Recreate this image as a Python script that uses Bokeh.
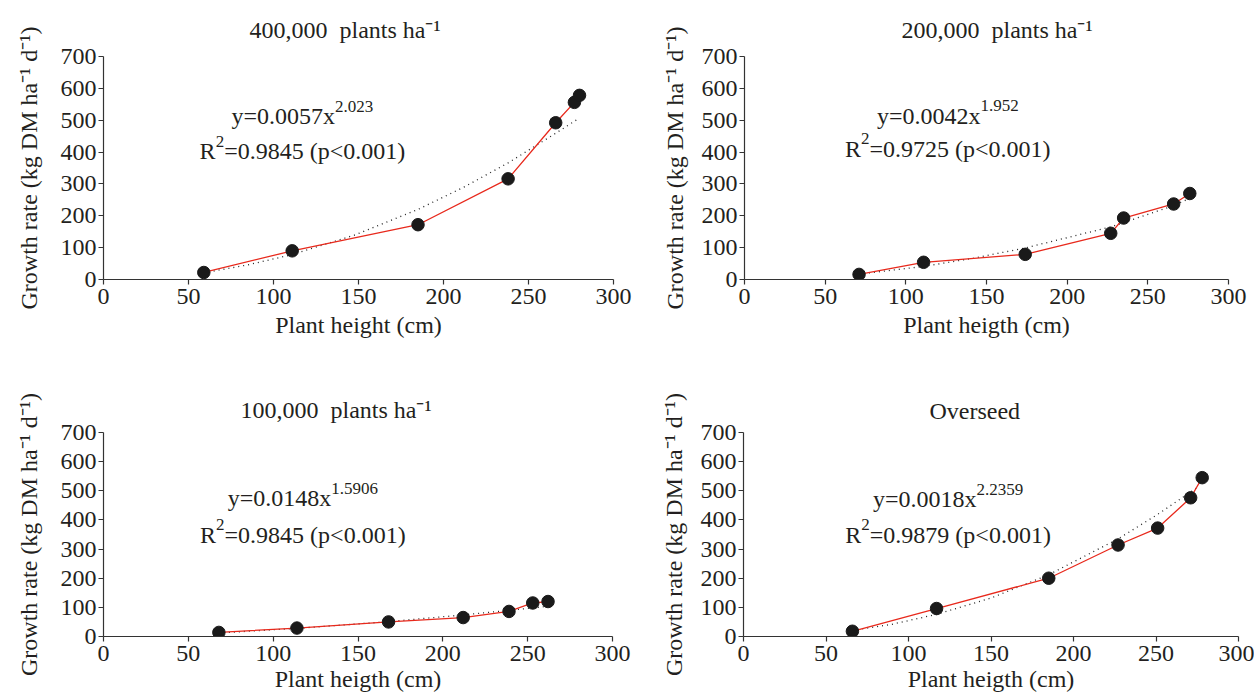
from bokeh.plotting import figure
from bokeh.models import Label, Range1d
from bokeh.layouts import column, row
from bokeh.embed import file_html
from bokeh.resources import INLINE

# ---------------- data ----------------
x_ticks = [0, 50, 100, 150, 200, 250, 300]
y_ticks = [0, 100, 200, 300, 400, 500, 600, 700]

p400_height = [59, 111, 185, 238, 266, 277, 280]
p400_rate = [22, 90, 172, 316, 492, 556, 578]
p400_fit_height = [59, 85, 111, 148, 185, 212, 238, 266, 280]
p400_fit_rate = [21, 46, 78, 140, 220, 290, 366, 459, 507]

p200_height = [71, 111, 174, 227, 235, 266, 276]
p200_rate = [16, 54, 79, 145, 193, 237, 270]
p200_fit_height = [71, 111, 142, 174, 227, 266, 276]
p200_fit_rate = [17, 41, 67, 99, 165, 232, 255]

p100_height = [68, 114, 168, 212, 239, 253, 262]
p100_rate = [14, 29, 50, 65, 86, 115, 120]
p100_fit_height = [68, 114, 168, 212, 239, 253, 262]
p100_fit_rate = [12, 28, 51, 74, 90, 98, 104]

over_height = [66, 117, 185, 227, 251, 271, 278]
over_rate = [18, 96, 200, 314, 372, 476, 545]
over_fit_height = [66, 90, 117, 150, 185, 227, 251, 271, 276]
over_fit_rate = [21, 42, 76, 132, 212, 335, 419, 496, 515]

titles = ["400,000\u00a0 plants ha\u207b\u00b9", "200,000\u00a0 plants ha\u207b\u00b9",
          "100,000\u00a0 plants ha\u207b\u00b9", "Overseed"]
x_labels = ["Plant height (cm)", "Plant heigth (cm)", "Plant heigth (cm)", "Plant heigth (cm)"]
y_label = "Growth rate (kg DM ha\u207b\u00b9 d\u207b\u00b9)"
eq_coef = ["0.0057", "0.0042", "0.0148", "0.0018"]
eq_exp = ["2.023", "1.952", "1.5906", "2.2359"]
eq_r2 = ["0.9845", "0.9725", "0.9845", "0.9879"]

# ---------------- styling ----------------
FONT = "Liberation Serif"
TXT = "#231f20"
RED = "#e8291c"
FS = 24
SFS = 17

# Times-like advance widths (per 1000 em) to place superscripts
ADV = {'y': 500, '=': 564, '.': 250, 'x': 500, 'R': 667, ' ': 250, '(': 333,
       ')': 333, 'p': 500, '<': 564}


def text_w(s, size):
    return sum(ADV.get(c, 500) for c in s) * size / 1000.0


def add_line(p, cx, y, parts):
    total = sum(text_w(t, SFS if sup else FS) for t, sup in parts)
    off = -total / 2.0
    for t, sup in parts:
        p.add_layout(Label(x=cx, y=y, x_units="data", y_units="data",
                           text=t, x_offset=off, y_offset=(10 if sup else 0),
                           text_font=FONT, text_font_size=f"{SFS if sup else FS}px",
                           text_color=TXT, text_align="left",
                           text_baseline="alphabetic"))
        off += text_w(t, SFS if sup else FS)


panels = [
    dict(data=(p400_height, p400_rate, p400_fit_height, p400_fit_rate),
         w=640, h=378, bl=103, br=27, bt=53, bb=99, toff=146, tstand=28,
         ystand=16, xstand=5, cx=117, y1=512, y2=402),
    dict(data=(p200_height, p200_rate, p200_fit_height, p200_fit_rate),
         w=614, h=378, bl=104, br=26, bt=54, bb=99, toff=157, tstand=28,
         ystand=11, xstand=5, cx=126, y1=514, y2=411),
    dict(data=(p100_height, p100_rate, p100_fit_height, p100_fit_rate),
         w=640, h=317, bl=103, br=28, bt=52, bb=59, toff=137, tstand=20,
         ystand=16, xstand=2, cx=117.5, y1=474, y2=350),
    dict(data=(over_height, over_rate, over_fit_height, over_fit_rate),
         w=614, h=317, bl=103, br=16, bt=54, bb=58, toff=186, tstand=18,
         ystand=11, xstand=2, cx=124, y1=471, y2=349),
]

figs = []
for i, cfg in enumerate(panels):
    hx, ry, fx, fy = cfg["data"]
    p = figure(width=cfg["w"], height=cfg["h"], output_backend="svg",
               toolbar_location=None, x_range=Range1d(0, 300), y_range=Range1d(0, 700),
               min_border_left=cfg["bl"], min_border_right=cfg["br"],
               min_border_top=cfg["bt"], min_border_bottom=cfg["bb"])
    p.title.text = titles[i]
    p.title.align = "left"
    p.title.offset = cfg["toff"]
    p.title.standoff = cfg["tstand"]
    p.title.text_font = FONT
    p.title.text_font_size = f"{FS}px"
    p.title.text_font_style = "normal"
    p.title.text_color = TXT

    p.xgrid.visible = False
    p.ygrid.visible = False
    p.outline_line_color = None
    p.background_fill_color = "white"
    p.border_fill_color = "white"

    for ax in (p.xaxis[0], p.yaxis[0]):
        ax.axis_line_color = "#333333"
        ax.axis_line_width = 1.2
        ax.major_tick_line_color = "#333333"
        ax.major_tick_line_width = 1.2
        ax.major_tick_out = 5
        ax.major_tick_in = 0
        ax.minor_tick_out = 0
        ax.minor_tick_in = 0
        ax.major_label_text_font = FONT
        ax.major_label_text_font_size = f"{FS}px"
        ax.major_label_text_color = TXT
        ax.axis_label_text_font = FONT
        ax.axis_label_text_font_size = f"{FS}px"
        ax.axis_label_text_font_style = "normal"
        ax.axis_label_text_color = TXT
    p.xaxis.major_label_standoff = 4
    p.yaxis.major_label_standoff = 2
    p.xaxis.ticker = x_ticks
    p.yaxis.ticker = y_ticks
    p.xaxis.axis_label = x_labels[i]
    p.yaxis.axis_label = y_label
    p.xaxis.axis_label_standoff = cfg["xstand"]
    p.yaxis.axis_label_standoff = cfg["ystand"]

    p.line(fx, fy, color="#222222", line_width=1.3, line_dash="1 4")
    p.line(hx, ry, color=RED, line_width=1.3)
    p.scatter(hx, ry, size=12.5, color="#1a1a1a")

    add_line(p, cfg["cx"], cfg["y1"], [(f"y={eq_coef[i]}x", False), (eq_exp[i], True)])
    add_line(p, cfg["cx"], cfg["y2"], [("R", False), ("2", True),
                                        (f"={eq_r2[i]} (p<0.001)", False)])
    figs.append(p)

layout = column(row(figs[0], figs[1]), row(figs[2], figs[3]))
open("out.html", "w").write(file_html(layout, INLINE))
